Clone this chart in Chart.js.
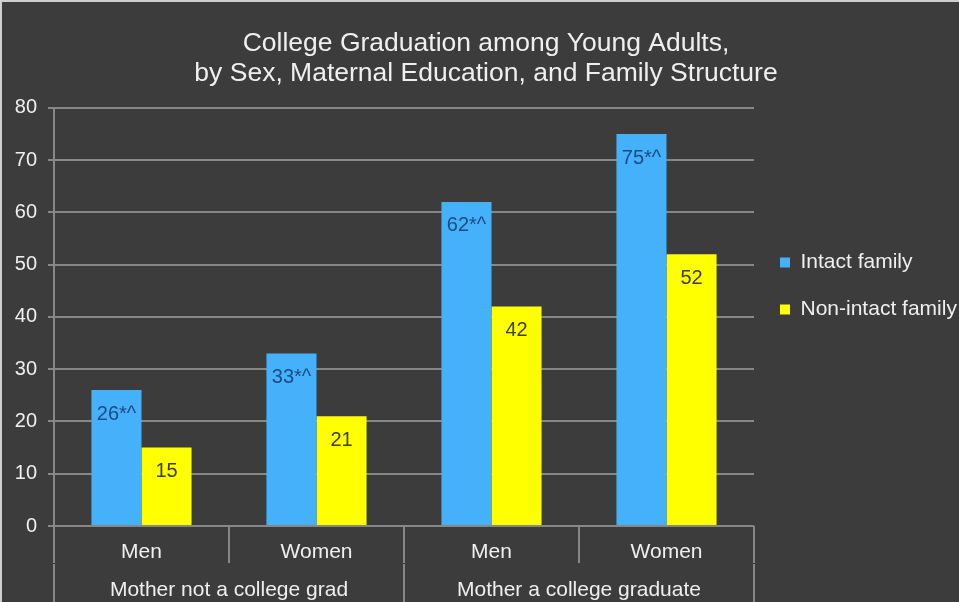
<!DOCTYPE html>
<html>
<head>
<meta charset="utf-8">
<script src="https://cdn.jsdelivr.net/npm/chart.js@4/dist/chart.umd.min.js"></script>
<style>
  html, body { margin: 0; padding: 0; background: #3c3c3c; }
  #wrap { width: 957px; height: 600px; border-top: 2px solid #cfcfcf; border-left: 2px solid #cfcfcf; background: #3c3c3c; }
  canvas { display: block; }
</style>
</head>
<body>
<div id="wrap"><canvas id="c" width="957" height="600"></canvas></div>
<script>
// ---- data ----
const subLabels = ['Men', 'Women', 'Men', 'Women'];
const groupLabels = ['Mother not a college grad', 'Mother a college graduate'];
const titleLines = ['College Graduation among Young Adults,', 'by Sex, Maternal Education, and Family Structure'];
const seriesNames = ['Intact family', 'Non-intact family'];
const intactValues = [26, 33, 62, 75];
const nonIntactValues = [15, 21, 42, 52];
const intactMarks = ['*^', '*^', '*^', '*^'];
const nonIntactMarks = ['', '', '', ''];
const yTicks = [0, 10, 20, 30, 40, 50, 60, 70, 80];

const FONT = '"Liberation Sans", Arial, Helvetica, sans-serif';
const TXT = '#efefef';
const GRID = '#878787';

const bgPlugin = {
  id: 'bg',
  beforeDraw(chart) {
    const ctx = chart.ctx;
    ctx.save();
    ctx.fillStyle = '#3c3c3c';
    ctx.fillRect(0, 0, chart.width, chart.height);
    ctx.restore();
  }
};

const valueLabels = {
  id: 'valueLabels',
  afterDatasetsDraw(chart) {
    const ctx = chart.ctx;
    ctx.save();
    ctx.font = '20px ' + FONT;
    ctx.textAlign = 'center';
    ctx.textBaseline = 'middle';
    chart.data.datasets.forEach((ds, di) => {
      const meta = chart.getDatasetMeta(di);
      meta.data.forEach((bar, i) => {
        ctx.fillStyle = ds.labelColor;
        ctx.fillText(String(ds.data[i]) + ds.marks[i], bar.x, bar.y + 24);
      });
    });
    ctx.restore();
  }
};

new Chart(document.getElementById('c'), {
  type: 'bar',
  data: {
    labels: subLabels,
    datasets: [
      { label: seriesNames[0], data: intactValues, marks: intactMarks, backgroundColor: '#45b1fa', labelColor: '#1a4c84' },
      { label: seriesNames[1], data: nonIntactValues, marks: nonIntactMarks, backgroundColor: '#ffff00', labelColor: '#3d3d12' }
    ]
  },
  plugins: [bgPlugin, valueLabels],
  options: {
    responsive: false,
    animation: false,
    devicePixelRatio: 1,
    layout: { padding: { left: 11, right: 0, top: 0, bottom: 0 } },
    datasets: { bar: { categoryPercentage: 0.572, barPercentage: 1.0 } },
    plugins: {
      title: {
        display: true,
        text: titleLines,
        color: TXT,
        font: { family: FONT, size: 26.5, weight: 'normal', lineHeight: 1.13 },
        padding: { top: 27, bottom: 19 }
      },
      legend: {
        position: 'right',
        align: 'start',
        maxWidth: 205,
        title: { display: true, text: ' ', font: { size: 10, lineHeight: '224px' }, padding: 0 },
        labels: {
          color: TXT,
          font: { family: FONT, size: 21 },
          boxWidth: 10,
          boxHeight: 10,
          padding: 26
        }
      },
      tooltip: { enabled: false }
    },
    scales: {
      y: {
        min: 0, max: 80,
        afterBuildTicks(scale) { scale.ticks = yTicks.map(v => ({ value: v })); },
        grid: { color: GRID, lineWidth: 2, tickLength: 6 },
        border: { display: true, color: GRID, width: 2 },
        ticks: { color: TXT, font: { family: FONT, size: 20 }, padding: 11 },
        afterFit(scale) { scale.width = 41; }
      },
      x: {
        position: 'bottom',
        grid: { offset: true, drawOnChartArea: false, color: GRID, lineWidth: 2, tickLength: 37 },
        border: { display: false },
        ticks: { color: TXT, font: { family: FONT, size: 21 }, padding: -23, maxRotation: 0, autoSkip: false },
        afterFit(scale) { scale.height = 38; }
      },
      x2: {
        type: 'category',
        position: 'bottom',
        labels: groupLabels,
        offset: true,
        grid: { offset: true, drawOnChartArea: false, color: GRID, lineWidth: 2, tickLength: 42 },
        border: { display: false },
        ticks: { color: TXT, font: { family: FONT, size: 21 }, padding: -28, maxRotation: 0, autoSkip: false },
        afterFit(scale) { scale.height = 38; }
      }
    }
  }
});
</script>
</body>
</html>
